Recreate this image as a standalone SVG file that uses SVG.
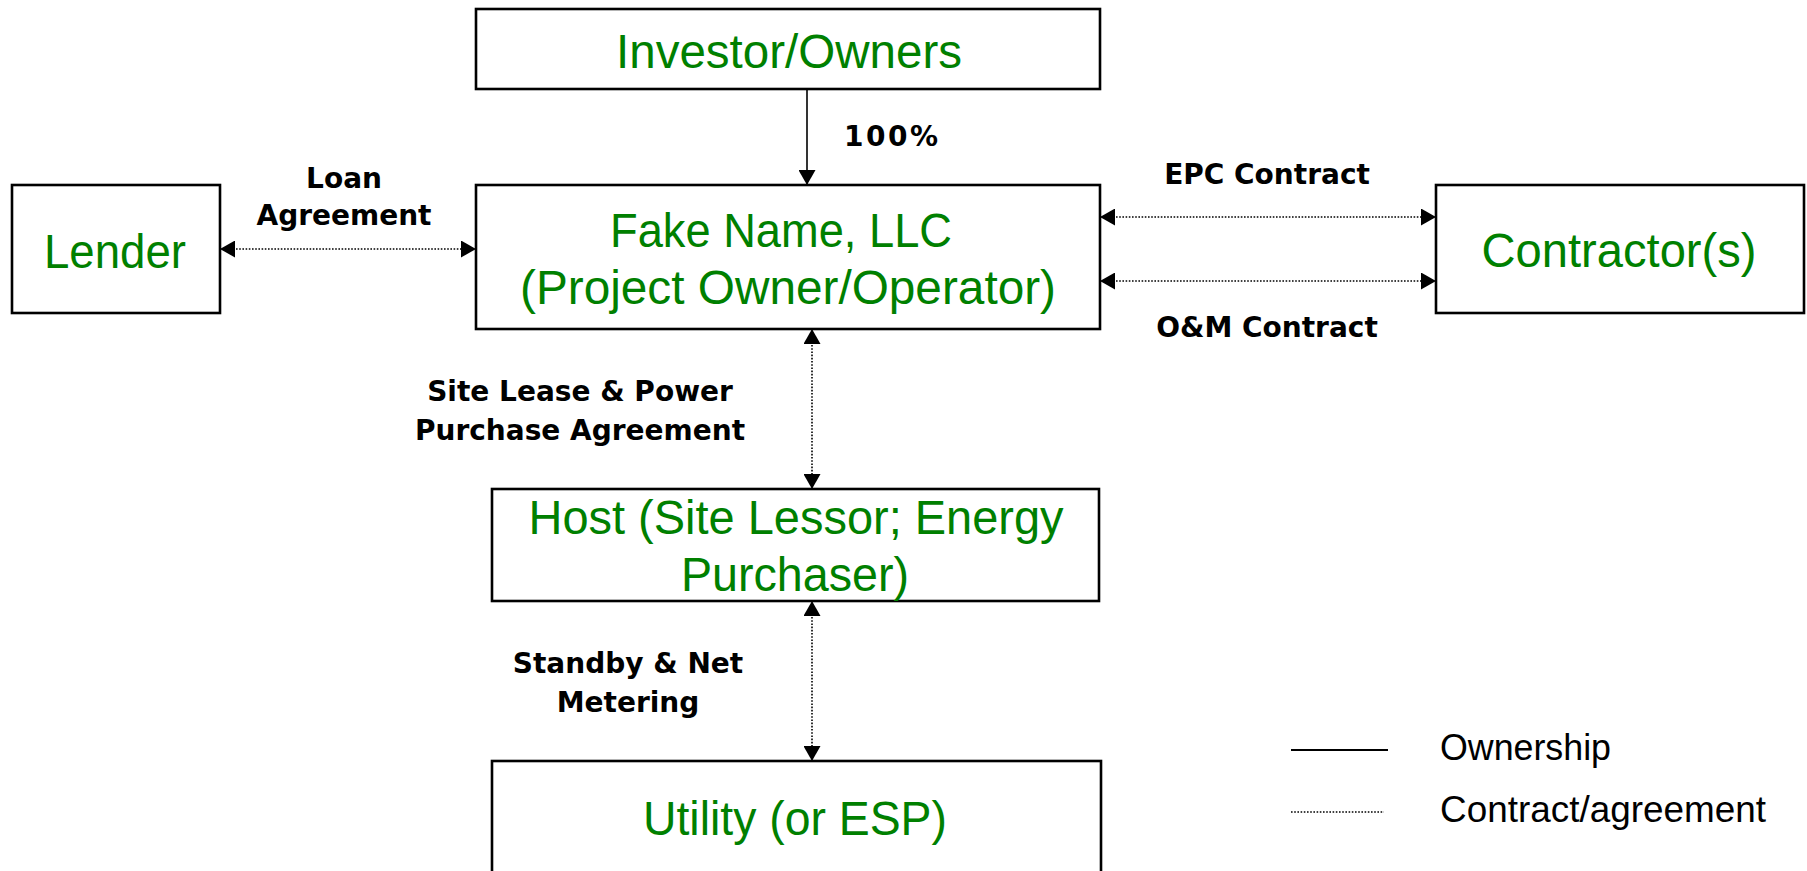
<svg xmlns="http://www.w3.org/2000/svg" width="1807" height="871" viewBox="0 0 1807 871">
  <style>
    .box { fill: #ffffff; stroke: #000000; stroke-width: 2.6; }
    .name { font-family: "Liberation Sans", Arial, sans-serif; font-size: 48px; fill: #008000; text-anchor: middle; }
    .lbl { font-family: "DejaVu Sans", Verdana, sans-serif; font-size: 28px; font-weight: bold; fill: #000000; text-anchor: middle; }
    .legend { font-family: "Liberation Sans", Arial, sans-serif; font-size: 36px; fill: #000000; }
    .own { stroke: #000000; stroke-width: 1.6; fill: none; }
    .contract { stroke: #000000; stroke-width: 1.6; stroke-dasharray: 1.6 1.6; fill: none; }
  </style>
  <defs>
    <marker id="arrow" markerUnits="userSpaceOnUse" markerWidth="16" markerHeight="17" refX="15" refY="8.5" orient="auto-start-reverse">
      <path d="M0,0 L15,8.5 L0,17 Z" fill="#000000"/>
    </marker>
  </defs>

  <rect width="1807" height="871" fill="#ffffff"/>

  <!-- connectors -->
  <g id="connectors">
    <line class="own" x1="807" y1="89" x2="807" y2="185" marker-end="url(#arrow)"/>
    <line class="contract" x1="220" y1="249" x2="476" y2="249" marker-start="url(#arrow)" marker-end="url(#arrow)"/>
    <line class="contract" x1="1100" y1="217" x2="1436" y2="217" marker-start="url(#arrow)" marker-end="url(#arrow)"/>
    <line class="contract" x1="1100" y1="281" x2="1436" y2="281" marker-start="url(#arrow)" marker-end="url(#arrow)"/>
    <line class="contract" x1="812" y1="329" x2="812" y2="489" marker-start="url(#arrow)" marker-end="url(#arrow)"/>
    <line class="contract" x1="812" y1="601" x2="812" y2="761" marker-start="url(#arrow)" marker-end="url(#arrow)"/>

    <text class="lbl" x="891" y="146" textLength="94">100%</text>
    <text class="lbl" x="344" y="188">Loan</text>
    <text class="lbl" x="344" y="225">Agreement</text>
    <text class="lbl" x="1267" y="184">EPC Contract</text>
    <text class="lbl" x="1267" y="337">O&amp;M Contract</text>
    <text class="lbl" x="580" y="401">Site Lease &amp; Power</text>
    <text class="lbl" x="580" y="440">Purchase Agreement</text>
    <text class="lbl" x="628" y="673">Standby &amp; Net</text>
    <text class="lbl" x="628" y="712">Metering</text>
  </g>

  <!-- nodes -->
  <g id="investor">
    <rect class="box" x="476" y="9" width="624" height="80"/>
    <text class="name" x="789" y="68" textLength="346" lengthAdjust="spacingAndGlyphs">Investor/Owners</text>
  </g>
  <g id="project-llc">
    <rect class="box" x="476" y="185" width="624" height="144"/>
    <text class="name" x="781" y="247" textLength="342" lengthAdjust="spacingAndGlyphs">Fake Name, LLC</text>
    <text class="name" x="788" y="304" textLength="536" lengthAdjust="spacingAndGlyphs">(Project Owner/Operator)</text>
  </g>
  <g id="lender">
    <rect class="box" x="12" y="185" width="208" height="128"/>
    <text class="name" x="115" y="268" textLength="142" lengthAdjust="spacingAndGlyphs">Lender</text>
  </g>
  <g id="contractors">
    <rect class="box" x="1436" y="185" width="368" height="128"/>
    <text class="name" x="1619" y="267" textLength="275" lengthAdjust="spacingAndGlyphs">Contractor(s)</text>
  </g>
  <g id="host">
    <rect class="box" x="492" y="489" width="607" height="112"/>
    <text class="name" x="796" y="534" textLength="535" lengthAdjust="spacingAndGlyphs">Host (Site Lessor; Energy</text>
    <text class="name" x="795" y="591" textLength="228" lengthAdjust="spacingAndGlyphs">Purchaser)</text>
  </g>
  <g id="utility">
    <rect class="box" x="492" y="761" width="609" height="130"/>
    <text class="name" x="795" y="835" textLength="304" lengthAdjust="spacingAndGlyphs">Utility (or ESP)</text>
  </g>

  <!-- legend -->
  <g id="legend">
    <line x1="1291" y1="750" x2="1388" y2="750" stroke="#000000" stroke-width="2"/>
    <line class="contract" x1="1291" y1="812" x2="1384" y2="812"/>
    <text class="legend" x="1440" y="760" textLength="171" lengthAdjust="spacingAndGlyphs">Ownership</text>
    <text class="legend" x="1440" y="822" textLength="326" lengthAdjust="spacingAndGlyphs">Contract/agreement</text>
  </g>
</svg>
